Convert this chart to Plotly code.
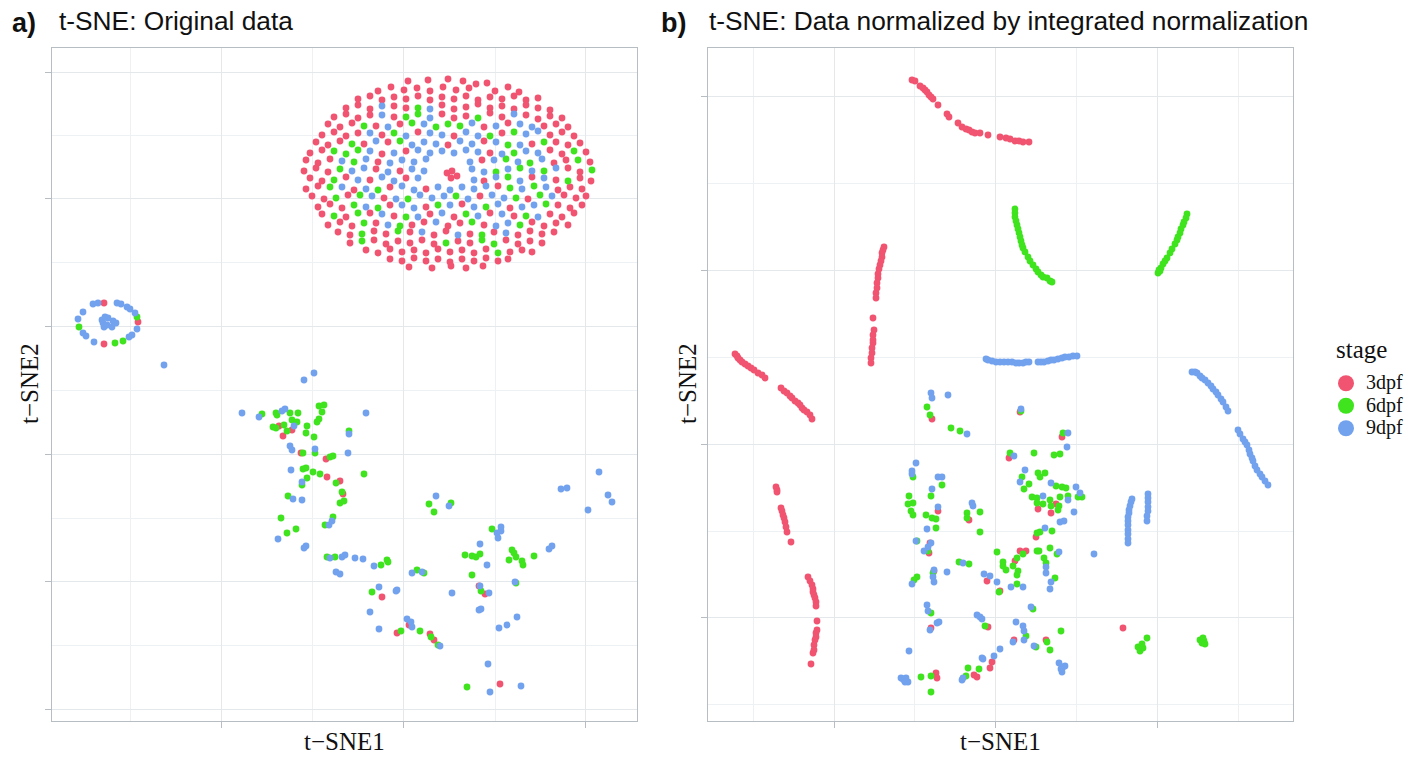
import plotly.graph_objects as go

W, H = 1423, 757

STAGES = ["3dpf", "6dpf", "9dpf"]
COLORS = {"3dpf": "#F15470", "6dpf": "#3FE31E", "9dpf": "#72A2EE"}

# ---------------- Panel a: t-SNE original data (values in plot units) ----------------
# large ring-shaped cluster: (t-SNE1, t-SNE2)
a_ring_red = [
    (408, 81), (428, 80), (448, 79), (463, 81), (476, 84), (487, 83),
    (378, 91), (391, 87), (404, 90), (417, 88), (430, 91), (443, 87), (456, 90), (469, 88), (495, 91), (508, 87), (519, 92),
    (358, 99), (370, 96), (382, 100), (394, 97), (406, 99), (418, 96), (430, 100), (442, 97), (454, 99), (466, 96), (478, 100),
    (490, 97), (502, 99), (514, 96), (526, 100), (538, 98),
    (346, 108), (358, 105), (370, 109), (394, 106), (406, 108), (442, 105), (454, 109), (466, 107), (478, 104), (490, 108),
    (502, 106), (514, 109), (526, 105), (538, 108), (550, 110),
    (334, 117), (346, 114), (358, 118), (370, 115), (394, 117), (442, 114), (454, 118), (466, 116), (490, 113), (502, 117),
    (526, 115), (538, 119), (550, 116), (562, 118),
    (328, 124), (340, 127), (352, 123), (376, 126), (400, 124), (484, 127), (508, 123), (544, 126), (556, 124), (568, 127),
    (322, 135), (334, 132), (346, 136), (358, 133), (382, 135), (418, 132), (454, 136), (502, 133), (550, 135), (562, 132), (574, 136),
    (316, 142), (328, 145), (340, 141), (364, 144), (388, 142), (448, 145), (484, 141), (532, 144), (556, 142), (568, 145), (580, 143),
    (310, 153), (322, 150), (382, 154), (406, 151), (490, 153), (550, 150), (562, 154), (586, 152),
    (306, 160), (318, 163), (330, 159), (378, 162), (482, 160), (554, 163), (566, 160), (590, 162),
    (304, 171), (316, 168), (328, 172), (376, 169), (400, 171), (568, 168), (580, 172),
    (447, 173), (452, 171), (457, 176), (451, 178),
    (310, 178), (322, 181), (346, 177), (370, 180), (406, 178), (484, 181), (532, 177), (556, 180), (580, 178), (591, 181),
    (306, 189), (318, 186), (354, 190), (390, 187), (426, 189), (498, 186), (558, 190), (570, 187), (582, 189),
    (312, 196), (324, 199), (348, 195), (384, 198), (480, 196), (528, 199), (564, 195), (576, 198), (586, 196),
    (318, 207), (330, 204), (342, 208), (390, 205), (426, 207), (462, 204), (510, 208), (558, 205), (570, 208), (582, 205),
    (322, 214), (346, 217), (370, 213), (394, 216), (430, 214), (454, 217), (490, 213), (514, 216), (550, 214), (562, 217), (574, 213),
    (328, 225), (340, 222), (352, 226), (376, 223), (412, 225), (424, 222), (448, 226), (460, 223), (484, 225), (532, 222),
    (544, 226), (556, 223), (568, 225),
    (338, 232), (350, 235), (374, 231), (386, 234), (410, 232), (434, 235), (446, 231), (470, 234), (494, 232), (518, 235),
    (530, 231), (542, 234), (554, 232),
    (350, 243), (374, 240), (386, 244), (398, 241), (410, 243), (422, 240), (434, 244), (458, 241), (470, 243), (506, 240),
    (518, 244), (530, 241), (542, 243),
    (366, 250), (378, 253), (390, 249), (402, 252), (414, 250), (426, 253), (438, 249), (450, 252), (462, 250), (474, 253),
    (486, 249), (510, 252), (522, 250), (532, 252),
    (390, 259), (402, 261), (414, 258), (426, 261), (438, 259), (450, 262), (462, 259), (474, 261), (486, 258), (498, 261), (508, 259),
    (409, 267), (432, 268), (451, 266), (466, 268), (483, 266),
]
a_ring_green = [
    (418, 108), (406, 117), (418, 114), (478, 118),
    (364, 126), (412, 123), (436, 127), (448, 124), (460, 126),
    (394, 133), (490, 136), (514, 132),
    (352, 144), (400, 141), (508, 145), (544, 142),
    (334, 151), (346, 154), (358, 150), (514, 153), (574, 151),
    (354, 162), (506, 159), (530, 163), (578, 160),
    (340, 169), (496, 172), (520, 168), (544, 171), (592, 170),
    (334, 180), (508, 177), (568, 181),
    (330, 187), (378, 190), (510, 188), (534, 186),
    (336, 198), (360, 195), (408, 199), (456, 196), (516, 198), (540, 195),
    (354, 205), (378, 208), (438, 205), (486, 207), (546, 204),
    (334, 216), (358, 213), (406, 217), (466, 214), (526, 216),
    (364, 223), (400, 226), (472, 222), (520, 225),
    (362, 234), (398, 231), (482, 235),
    (362, 241), (446, 243), (482, 240), (494, 244),
    (498, 253),
]
a_ring_blue = [
    (382, 106), (430, 109),
    (382, 115), (430, 118), (514, 114),
    (388, 127), (424, 124), (472, 123), (496, 126), (520, 124), (532, 127),
    (370, 133), (406, 136), (430, 133), (442, 135), (466, 132), (478, 136), (526, 134), (538, 131),
    (376, 141), (412, 145), (424, 142), (436, 144), (460, 141), (472, 144), (496, 142), (520, 145),
    (370, 151), (394, 153), (418, 150), (430, 153), (442, 151), (454, 153), (466, 150), (478, 152), (502, 154), (526, 151), (538, 153),
    (342, 161), (366, 159), (390, 163), (402, 160), (414, 162), (426, 159), (470, 162), (494, 160), (518, 162), (542, 159),
    (352, 171), (364, 168), (388, 172), (412, 169), (424, 171), (472, 169), (484, 172), (508, 169), (532, 171), (556, 168),
    (358, 180), (382, 177), (394, 181), (418, 178), (474, 180), (496, 177), (520, 181), (544, 178),
    (342, 187), (366, 189), (402, 186), (414, 190), (438, 187), (450, 190), (462, 187), (474, 189), (486, 186), (522, 189), (546, 187),
    (372, 196), (396, 199), (420, 195), (432, 198), (444, 196), (468, 199), (492, 195), (504, 198), (552, 196),
    (366, 207), (402, 205), (414, 208), (450, 205), (474, 207), (498, 204), (522, 207), (534, 205),
    (382, 214), (418, 217), (442, 213), (478, 216), (502, 214), (538, 217),
    (388, 225), (436, 222), (496, 226), (508, 223),
    (422, 232), (458, 235), (506, 233),
]

# small spiral cluster and scattered cells: (t-SNE1, t-SNE2)
a_red = [(104, 303), (104, 344), (138, 322),
         (279, 426), (283, 436), (292, 430), (301, 453), (326, 459), (327, 477), (340, 481),
         (343, 494), (382, 597), (409, 625), (397, 633), (430, 634), (434, 640), (479, 586),
         (485, 594), (500, 684)]
a_green = [(79, 327), (115, 343), (123, 341), (137, 317),
           (262, 414), (276, 413), (277, 415), (290, 413), (298, 413), (292, 420), (297, 422),
           (273, 427), (276, 428), (284, 425), (287, 431), (307, 426), (306, 433), (314, 437),
           (319, 406), (324, 405), (322, 412), (317, 422), (319, 419), (349, 431), (303, 453),
           (315, 453), (330, 457), (333, 456), (364, 474), (303, 469), (306, 468), (313, 472),
           (320, 474), (336, 483), (307, 478), (302, 485), (342, 492), (340, 503), (344, 501),
           (288, 496), (281, 518), (325, 525), (333, 517), (287, 533), (296, 529), (327, 557),
           (335, 557), (429, 504), (434, 512), (451, 503), (492, 529), (465, 555), (472, 556),
           (476, 557), (480, 554), (472, 575), (512, 550), (514, 553), (516, 557), (509, 560),
           (522, 561), (523, 565), (534, 556), (516, 583), (381, 565), (387, 560), (388, 562),
           (417, 570), (424, 573), (372, 592), (481, 591), (401, 631), (420, 631), (431, 637),
           (438, 645), (467, 687)]
a_blue = [(93, 304), (98, 303), (117, 303), (121, 304), (127, 307), (130, 309), (135, 313),
          (83, 312), (78, 319), (83, 333), (86, 336), (94, 342), (129, 337), (132, 335),
          (137, 329), (102, 320), (105, 317), (108, 318), (113, 321), (116, 323), (112, 327),
          (107, 325), (103, 323), (104, 327), (164, 365),
          (304, 380), (314, 373), (242, 413), (259, 417), (285, 409), (282, 411), (294, 426),
          (366, 413), (349, 434), (290, 446), (292, 450), (315, 449), (348, 453), (291, 470),
          (302, 482), (293, 499), (302, 500), (332, 521), (329, 525), (278, 539), (306, 546),
          (304, 548), (342, 557), (345, 555), (355, 558), (363, 559), (330, 558), (374, 566),
          (336, 572), (340, 574), (412, 573), (422, 572), (379, 587), (397, 590), (396, 591),
          (452, 593), (480, 586), (489, 593), (370, 612), (379, 629), (407, 619), (411, 622),
          (412, 627), (440, 646), (479, 610), (481, 609), (499, 628), (507, 625), (517, 617),
          (488, 664), (490, 692), (521, 686), (436, 496), (449, 506), (561, 489), (567, 488),
          (599, 472), (608, 495), (612, 502), (588, 510), (501, 527), (501, 531), (497, 533),
          (498, 538), (480, 544), (487, 565), (549, 549), (552, 546), (515, 582)]

# ---------------- Panel b: t-SNE after integrated normalization ----------------
b_red = [(912, 80), (915, 81), (920, 86), (923, 88), (925, 90), (927, 92), (929, 95), (931, 97),
         (933, 99), (938, 105), (947, 114), (949, 117), (958, 123), (962, 127), (966, 129),
         (969, 130), (972, 132), (975, 133), (980, 133), (988, 135), (1000, 137), (1006, 138),
         (1010, 139), (1015, 141), (1019, 141), (1023, 142), (1029, 142),
         (884, 247), (883, 250), (882, 253), (882, 257), (881, 261), (880, 265), (879, 269),
         (878, 274), (878, 278), (877, 283), (877, 288), (876, 293), (876, 298), (873, 318),
         (874, 330), (873, 335), (873, 340), (873, 343), (872, 348), (872, 353), (871, 358),
         (871, 363),
         (735, 354), (737, 356), (738, 358), (740, 360), (742, 362), (745, 364), (748, 366),
         (751, 368), (754, 370), (758, 373), (762, 375), (765, 378), (781, 388), (784, 391),
         (787, 393), (790, 396), (792, 398), (795, 401), (798, 403), (800, 405), (802, 408),
         (804, 410), (807, 412), (810, 415), (812, 419),
         (776, 487), (777, 490), (777, 492), (781, 508), (782, 511), (783, 515), (784, 518),
         (785, 522), (786, 527), (787, 532), (791, 542),
         (808, 577), (810, 581), (812, 585), (813, 589), (813, 592), (814, 595), (815, 598),
         (816, 602), (816, 606), (817, 621), (817, 630), (816, 633), (816, 637), (815, 640),
         (814, 645), (814, 650), (813, 653), (811, 664),
         (932, 419), (1020, 412), (1062, 437), (1009, 458), (938, 511), (969, 520), (1038, 509),
         (1051, 513), (1056, 504), (1036, 537), (930, 543), (929, 553), (1020, 551), (1026, 551),
         (1015, 561), (934, 571), (987, 581), (1000, 591), (931, 628), (988, 627), (1014, 640),
         (992, 662), (990, 668), (1046, 640), (977, 677), (974, 675), (936, 673), (937, 678),
         (1123, 628)]
b_green = [(1015, 209), (1015, 213), (1015, 217), (1016, 221), (1017, 225), (1018, 229),
           (1019, 233), (1020, 237), (1021, 241), (1022, 245), (1023, 248), (1025, 252),
           (1028, 257), (1030, 261), (1033, 265), (1036, 269), (1038, 272), (1041, 275),
           (1043, 277), (1047, 278), (1050, 281), (1052, 282),
           (1187, 214), (1186, 218), (1184, 222), (1183, 225), (1181, 229), (1180, 233),
           (1178, 237), (1177, 240), (1175, 244), (1172, 249), (1170, 253), (1167, 258),
           (1165, 261), (1163, 264), (1161, 268), (1160, 271), (1158, 273), (1159, 270),
           (1138, 647), (1142, 644), (1147, 638), (1140, 651), (1143, 648), (1200, 640),
           (1203, 638), (1204, 641), (1202, 643), (1205, 644),
           (927, 407), (930, 415), (951, 428), (960, 431), (1063, 433), (1010, 453), (1034, 453),
           (1054, 455), (1060, 454), (913, 477), (942, 485), (931, 496), (909, 496), (908, 504),
           (913, 503), (911, 511), (913, 515), (926, 515), (932, 518), (936, 519), (936, 528),
           (967, 513), (967, 518), (980, 512), (980, 532), (1022, 477), (1024, 489), (1038, 473),
           (1045, 473), (1040, 477), (1056, 486), (1062, 487), (1066, 488), (1082, 497),
           (1078, 497), (1029, 484), (1032, 497), (1037, 498), (1050, 500), (1060, 497),
           (1068, 496), (1037, 503), (1043, 504), (1051, 506), (1059, 506), (1058, 510),
           (1040, 532), (1037, 533), (1052, 531), (917, 541), (928, 551), (997, 552), (1023, 554),
           (1017, 558), (1037, 551), (1039, 551), (1057, 554), (1050, 548), (1003, 562),
           (1003, 566), (1006, 570), (1013, 566), (1018, 571), (1017, 575), (1044, 558),
           (1046, 563), (959, 562), (969, 564), (917, 577), (914, 580), (933, 573), (999, 592),
           (1017, 584), (1055, 578), (1033, 609), (931, 613), (985, 626), (1026, 636), (1036, 647),
           (1047, 642), (1050, 650), (1061, 631), (968, 668), (979, 669), (966, 676), (921, 677),
           (931, 676), (931, 692), (1021, 411)]
b_blue = [(986, 359), (988, 360), (992, 361), (996, 362), (1000, 362), (1004, 362), (1008, 362),
          (1012, 362), (1016, 363), (1019, 363), (1023, 363), (1026, 362), (1029, 362),
          (1038, 362), (1041, 362), (1044, 362), (1048, 361), (1051, 360), (1054, 360),
          (1058, 359), (1062, 358), (1065, 357), (1069, 357), (1073, 356), (1077, 356),
          (1192, 372), (1195, 372), (1197, 373), (1200, 376), (1202, 378), (1205, 380),
          (1208, 383), (1211, 386), (1213, 389), (1216, 392), (1218, 395), (1221, 399),
          (1223, 402), (1226, 407), (1228, 411), (1238, 430), (1240, 434), (1243, 439),
          (1245, 442), (1247, 445), (1249, 450), (1250, 454), (1252, 458), (1253, 461),
          (1255, 466), (1257, 470), (1260, 474), (1262, 477), (1265, 481), (1268, 485),
          (1132, 499), (1131, 502), (1130, 506), (1129, 510), (1129, 513), (1128, 517),
          (1128, 521), (1128, 525), (1128, 530), (1128, 534), (1128, 539), (1128, 543),
          (1148, 494), (1148, 498), (1148, 502), (1148, 507), (1148, 511), (1147, 516),
          (1147, 521),
          (931, 393), (932, 398), (948, 395), (967, 434), (1021, 409), (1068, 433), (1067, 447),
          (1014, 456), (916, 463), (912, 471), (912, 474), (938, 477), (942, 477), (932, 489),
          (938, 507), (927, 529), (972, 503), (973, 506), (1025, 470), (1020, 482), (1051, 483),
          (1076, 487), (1080, 493), (1043, 496), (1068, 500), (1074, 512), (1060, 522),
          (1064, 521), (1045, 528), (916, 541), (931, 543), (928, 547), (924, 551), (1059, 552),
          (1046, 567), (1046, 573), (1094, 554), (963, 563), (912, 584), (934, 570), (933, 577),
          (934, 582), (947, 572), (984, 574), (990, 576), (997, 582), (1011, 587), (1023, 587),
          (1051, 582), (1050, 589), (1031, 607), (927, 605), (928, 611), (939, 622), (937, 623),
          (930, 630), (977, 615), (980, 617), (982, 619), (1016, 622), (1023, 626), (1024, 631),
          (1024, 640), (1013, 642), (1000, 649), (994, 656), (1034, 646), (1059, 663),
          (1063, 667), (1062, 672), (1065, 666), (1061, 669), (909, 651), (982, 658), (983, 659),
          (962, 680), (963, 678), (901, 678), (903, 679), (905, 682), (908, 682), (904, 680),
          (906, 678)]

# axis ticks / grid (plot units)
a_x_major = [221, 403, 585]
a_x_minor = [130, 312, 495]
a_y_major = [72, 198, 326, 454, 581, 709]
a_y_minor = [135, 262, 390, 518, 645]
b_x_major = [834, 995, 1157]
b_x_minor = [753, 914, 1076, 1238]
b_y_major = [96, 270, 444, 617]
b_y_minor = [183, 357, 531, 704]

panel_a = {"3dpf": a_ring_red + a_red, "6dpf": a_ring_green + a_green, "9dpf": a_ring_blue + a_blue}
panel_b = {"3dpf": b_red, "6dpf": b_green, "9dpf": b_blue}

fig = go.Figure()
for data, xa, ya in [(panel_a, "x", "y"), (panel_b, "x2", "y2")]:
    for st in STAGES:
        pts = data[st]
        fig.add_trace(go.Scatter(
            x=[p[0] for p in pts], y=[p[1] for p in pts], mode="markers",
            marker=dict(size=6.8, color=COLORS[st], line=dict(width=0)),
            xaxis=xa, yaxis=ya, showlegend=False, hoverinfo="skip"))

# legend entries
for st in STAGES:
    fig.add_trace(go.Scatter(x=[None], y=[None], mode="markers",
                             name="<span style='font-size:20px'>%s</span>" % st,
                             marker=dict(size=16, color=COLORS[st]), showlegend=True))

GRID = "#E4E8EB"
MINOR = "#EEF1F3"
LINE = "#B6BDC3"


def axis(dom, rng, major, minor):
    return dict(domain=dom, range=rng, tickvals=major, showticklabels=False, ticks="outside",
                ticklen=6, tickcolor=LINE, tickwidth=1, showgrid=True, gridcolor=GRID,
                gridwidth=1.2, zeroline=False, showline=True, mirror=True, linecolor=LINE,
                linewidth=1.3, minor=dict(tickvals=minor, showgrid=True, gridcolor=MINOR,
                                          gridwidth=1, ticks=""))


top, bottom = 48, 721
fig.update_layout(
    width=W, height=H, margin=dict(l=0, r=0, t=0, b=0),
    template="none", paper_bgcolor="white", plot_bgcolor="white",
    xaxis=dict(axis([52 / W, 637 / W], [52, 637], a_x_major, a_x_minor), anchor="y"),
    yaxis=dict(axis([1 - bottom / H, 1 - top / H], [bottom, top], a_y_major, a_y_minor), anchor="x"),
    xaxis2=dict(axis([708 / W, 1293 / W], [708, 1293], b_x_major, b_x_minor), anchor="y2"),
    yaxis2=dict(axis([1 - bottom / H, 1 - top / H], [bottom, top], b_y_major, b_y_minor), anchor="x2"),
    legend=dict(x=1326 / W, y=1 - 367 / H, xanchor="left", yanchor="top",
                font=dict(family="Liberation Serif", size=15, color="#111"),
                bgcolor="rgba(0,0,0,0)", tracegroupgap=0, itemwidth=30),
)

ann = []
sans = "Liberation Sans"
serif = "Liberation Serif"
ann.append(dict(text="<b>a)</b>", x=10 / W, y=1 - 23 / H, font=dict(family=sans, size=27, color="#111"),
                xanchor="left", yanchor="middle"))
ann.append(dict(text="t-SNE: Original data", x=57 / W, y=1 - 21 / H,
                font=dict(family=sans, size=26.3, color="#111"), xanchor="left", yanchor="middle"))
ann.append(dict(text="<b>b)</b>", x=659 / W, y=1 - 23 / H, font=dict(family=sans, size=27, color="#111"),
                xanchor="left", yanchor="middle"))
ann.append(dict(text="t-SNE: Data normalized by integrated normalization", x=707 / W, y=1 - 21 / H,
                font=dict(family=sans, size=26.3, color="#111"), xanchor="left", yanchor="middle"))
ann.append(dict(text="stage", x=1334 / W, y=1 - 349 / H, font=dict(family=serif, size=25, color="#111"),
                xanchor="left", yanchor="middle"))
for cx in [(52 + 637) / 2, (708 + 1293) / 2]:
    ann.append(dict(text="t\u2212SNE1", x=cx / W, y=1 - 741 / H, font=dict(family=serif, size=25, color="#111"),
                    xanchor="center", yanchor="middle"))
for cx in [29, 687]:
    ann.append(dict(text="t\u2212SNE2", x=cx / W, y=1 - 384 / H, textangle=-90,
                    font=dict(family=serif, size=25, color="#111"), xanchor="center", yanchor="middle"))
for a in ann:
    a.update(xref="paper", yref="paper", showarrow=False)
fig.update_layout(annotations=ann)

fig.write_html("out.html")
